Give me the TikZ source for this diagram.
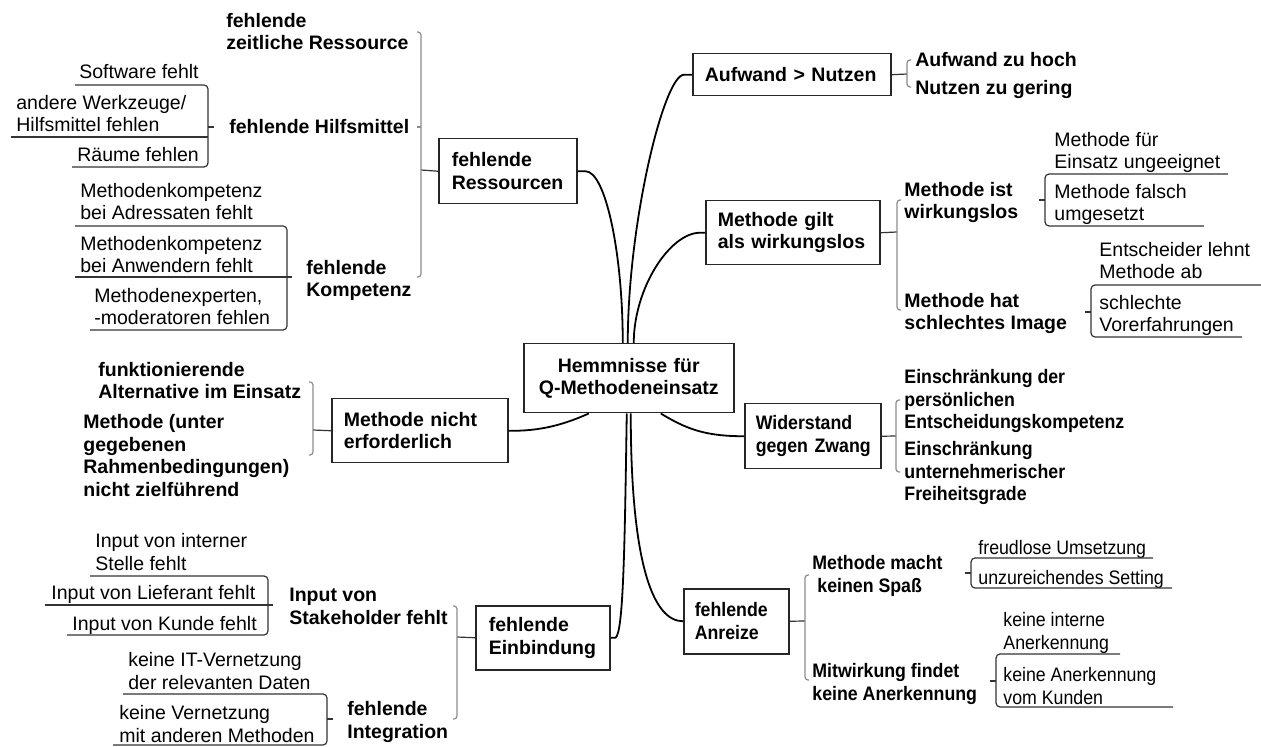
\documentclass[tikz,border=0pt]{standalone}
\usepackage{fontspec}
\setmainfont{Liberation Sans}
\newfontfamily\condfont{Liberation Sans}[FakeStretch=0.91]
\newcommand{\myfs}{\fontsize{9.75pt}{11.25pt}\selectfont}
\begin{document}
\begin{tikzpicture}[x=0.5pt,y=-0.5pt,
  box/.style={draw=black!85, line width=0.75pt, anchor=north west, inner ysep=0pt, align=left, font=\myfs\bfseries},
  bt/.style={anchor=base west, inner sep=0pt, align=left, font=\myfs\bfseries},
  rt/.style={anchor=base west, inner sep=0pt, align=left, font=\myfs},
  cbt/.style={anchor=base west, inner sep=0pt, align=left, font=\myfs\condfont\bfseries},
  crt/.style={anchor=base west, inner sep=0pt, align=left, font=\myfs\condfont},
  curve/.style={line width=0.9pt, black},
  link/.style={line width=0.6pt, black!80},
  brk/.style={line width=0.6pt, black!45, rounded corners=1.5pt},
  ul/.style={line width=0.6pt, black!80, rounded corners=2pt}]
\useasboundingbox (0,0) rectangle (1261,747);

% ---------- boxes ----------
\node[box, align=center, inner xsep=5pt, text width=95pt, minimum height=34.5pt] (C) at (523,343) {Hemmnisse~für\\Q-Methodeneinsatz};
\node[box, inner xsep=6.5pt, text width=56pt, minimum height=32.5pt] (R) at (438,138) {fehlende\\Ressourcen};
\node[box, inner xsep=6pt, text width=87pt, minimum height=21pt] (A) at (692,53) {Aufwand~>~Nutzen};
\node[box, inner xsep=6pt, text width=75pt, minimum height=32pt] (MG) at (705,200) {Methode~gilt\\als~wirkungslos};
\node[box, inner xsep=5.5pt, text width=57pt, minimum height=32.5pt, font=\myfs\condfont\bfseries] (W) at (744,403) {Widerstand\\gegen~Zwang};
\node[box, inner xsep=5.5pt, text width=41.5pt, minimum height=32.5pt, font=\myfs\condfont\bfseries] (AN) at (683,588) {fehlende\\Anreize};
\node[box, inner xsep=6.5pt, text width=54pt, minimum height=32pt] (E) at (475,605) {fehlende\\Einbindung};
\node[box, inner xsep=6pt, text width=76pt, minimum height=32pt] (MN) at (331,398) {Methode~nicht\\erforderlich};

% ---------- curves from centre ----------
\draw[curve] (R.east) -- ++(8,0) .. controls +(20,0) and +(0,-90) .. ([shift={(-6,0)}]C.north);
\draw[curve] (A.west) -- ++(-8,0) .. controls +(-20,0) and +(0,-120) .. ([shift={(-1,0)}]C.north);
\draw[curve] (MG.west) -- ++(-5,0) .. controls +(-30,0) and +(0,-55) .. ([shift={(5,0)}]C.north);
\draw[curve] (MN.east) -- ++(5,0) .. controls +(33,0) and +(-18,8) .. ([shift={(-40,0)}]C.south);
\draw[curve] ([shift={(32,0)}]C.south) .. controls +(25,15) and +(-40,0) .. (W.west);
\draw[curve] (E.east) -- ++(5,0) .. controls +(8,-5) and +(-2,130) .. ([shift={(-2,0)}]C.south);
\draw[curve] ([shift={(2,0)}]C.south) .. controls +(0,150) and +(-30,0) .. (AN.west);

% ---------- fehlende Ressourcen ----------
\node[bt] (zr) at (226,50) {fehlende\\zeitliche Ressource};
\node[bt] (hm) at (229,134) {fehlende Hilfsmittel};
\node[bt] (kp) at (306,297) {fehlende\\Kompetenz};
\coordinate (Rb) at (421,170);
\draw[link] (R.west) -- (Rb);
\draw[brk] (417,32) -- (421,32) -- (421,277) -- (417,277);
\draw[brk] (417,127) -- (421,127);

\node[rt] (sw) at (79,79) {Software fehlt};
\node[rt] (wz) at (16,132) {andere Werkzeuge/\\Hilfsmittel fehlen};
\node[rt] (rm) at (77,162) {Räume fehlen};
\draw[ul] (75,85) -- (208,85) -- (208,167) -- (72,167);
\draw[ul] (11,137) -- (208,137);
\draw[ul] (208,127) -- (214,127);

\node[rt] (ka) at (80,220) {Methodenkompetenz\\bei Adressaten fehlt};
\node[rt] (kw) at (80,273) {Methodenkompetenz\\bei Anwendern fehlt};
\node[rt] (ke) at (94,325) {Methodenexperten,\\-moderatoren fehlen};
\draw[ul] (75,226) -- (287,226) -- (287,330) -- (90,330);
\draw[ul] (75,277) -- (292,277);

% ---------- Methode nicht erforderlich ----------
\node[bt] (fa) at (98,399) {funktionierende\\Alternative im Einsatz};
\node[bt] (mz) at (83,496) {Methode (unter\\gegebenen\\Rahmenbedingungen)\\nicht zielführend};
\draw[link] (MN.west) -- (313,430);
\draw[brk] (309,382) -- (313,382) -- (313,455) -- (309,455);

% ---------- fehlende Einbindung ----------
\node[bt] (is) at (289,624) {Input von\\Stakeholder fehlt};
\node[bt] (fi) at (347,738) {fehlende\\Integration};
\draw[link] (E.west) -- (457,637);
\draw[brk] (453,606) -- (457,606) -- (457,719) -- (453,719);

\node[rt] (ii) at (95,570) {Input von interner\\Stelle fehlt};
\node[rt] (il) at (51,599) {Input von Lieferant fehlt};
\node[rt] (ik) at (72,630) {Input von Kunde fehlt};
\draw[ul] (90,576) -- (268,576) -- (268,635) -- (67,635);
\draw[ul] (45,605) -- (273,605);

\node[rt] (it) at (128,689) {keine IT-Vernetzung\\der relevanten Daten};
\node[rt] (iv) at (119,742) {keine Vernetzung\\mit anderen Methoden};
\draw[ul] (123,694) -- (327,694) -- (327,745) -- (113,745);
\draw[ul] (327,719) -- (333,719);

% ---------- Aufwand > Nutzen ----------
\node[bt] (az) at (915,67) {Aufwand zu hoch};
\node[bt] (ng) at (915,95) {Nutzen zu gering};
\draw[link] (A.east) -- (907,74);
\draw[brk] (911,60) -- (907,60) -- (907,87) -- (911,87);

% ---------- Methode gilt als wirkungslos ----------
\node[bt] (mi) at (904,219) {Methode ist\\wirkungslos};
\node[bt] (mh) at (904,330) {Methode hat\\schlechtes Image};
\draw[link] (MG.east) -- (897,232);
\draw[brk] (901,200) -- (897,200) -- (897,310) -- (901,310);

\node[rt] (mf) at (1054,169) {Methode für\\Einsatz ungeeignet};
\node[rt] (mu) at (1054,221) {Methode falsch\\umgesetzt};
\draw[ul] (1228,174) -- (1045,174) -- (1045,226) -- (1204,226);
\draw[ul] (1039,200) -- (1045,200);

\node[rt] (el) at (1099,279) {Entscheider lehnt\\Methode ab};
\node[rt] (sv) at (1099,332) {schlechte\\Vorerfahrungen};
\draw[ul] (1261,285) -- (1091,285) -- (1091,337) -- (1242,337);
\draw[ul] (1085,312) -- (1091,312);

% ---------- Widerstand gegen Zwang ----------
\node[cbt] (ep) at (904,429) {Einschränkung der\\persönlichen\\Entscheidungskompetenz};
\node[cbt] (eu) at (904,501) {Einschränkung\\unternehmerischer\\Freiheitsgrade};
\draw[link] (W.east) -- (896,436);
\draw[brk] (900,400) -- (896,400) -- (896,472) -- (900,472);

% ---------- fehlende Anreize ----------
\node[cbt] (ms) at (812,592) {Methode macht\\\hspace{2.5pt}keinen Spaß};
\node[cbt] (mw) at (812,700) {Mitwirkung findet\\keine Anerkennung};
\draw[link] (AN.east) -- (805,621);
\draw[brk] (809,575) -- (805,575) -- (805,680) -- (809,680);

\node[crt] (fu) at (978,554) {freudlose Umsetzung};
\node[crt] (us) at (978,584) {unzureichendes Setting};
\draw[ul] (1153,558) -- (971,558) -- (971,588) -- (1172,588);
\draw[ul] (965,573) -- (971,573);

\node[crt] (ki) at (1003,649) {keine interne\\Anerkennung};
\node[crt] (kk) at (1003,704) {keine Anerkennung\\vom Kunden};
\draw[ul] (1120,654) -- (996,654) -- (996,707) -- (1173,707);
\draw[ul] (990,681) -- (996,681);
\end{tikzpicture}
\end{document}
